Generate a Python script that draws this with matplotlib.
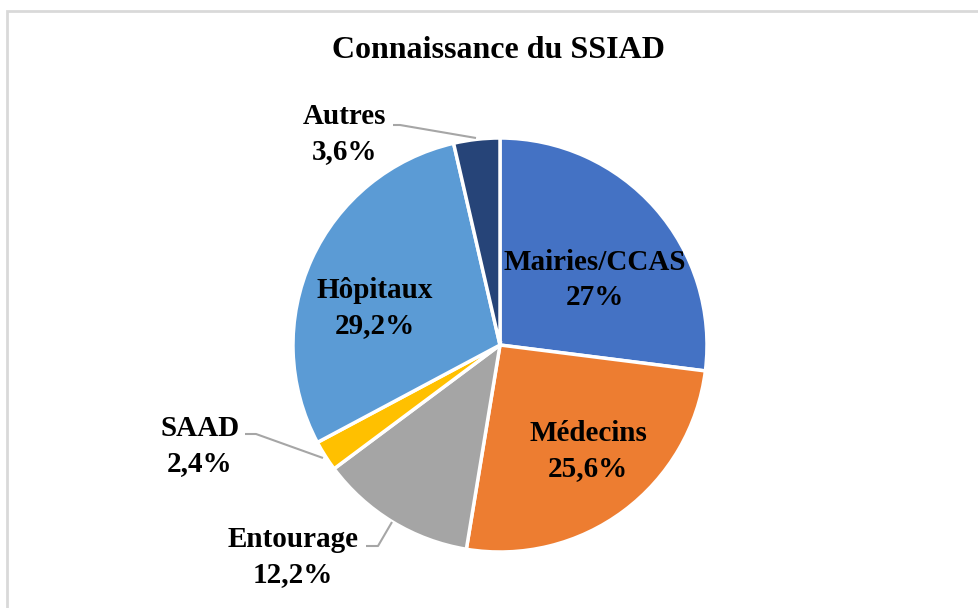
import matplotlib.pyplot as plt
from matplotlib.patches import Rectangle

labels = ["Mairies/CCAS", "Médecins", "Entourage", "SAAD", "Hôpitaux", "Autres"]
values = [27.0, 25.6, 12.2, 2.4, 29.2, 3.6]
pct_text = ["27%", "25,6%", "12,2%", "2,4%", "29,2%", "3,6%"]
colors = ["#4472C4", "#ED7D31", "#A5A5A5", "#FFC000", "#5B9BD5", "#264478"]

W, H = 979, 608
fig = plt.figure(figsize=(W / 100, H / 100), dpi=100)
ax = fig.add_axes([0, 0, 1, 1])
ax.axis("off")

font = {"family": ["Liberation Serif", "DejaVu Serif"], "weight": "bold"}

# chart area border (only top and left visible in the reference)
ax.add_patch(Rectangle((7, -10), W + 20, H - 11 + 10, fill=False,
                       edgecolor="#D9D9D9", linewidth=2))

cx, cy, r = 500, H - 345, 207
wedges, _ = ax.pie(values, colors=colors, startangle=90, counterclock=False,
                   center=(cx, cy), radius=r,
                   wedgeprops={"edgecolor": "white", "linewidth": 2.5})
ax.set_aspect("equal")
ax.set_xlim(0, W)
ax.set_ylim(0, H)

ax.text(499, H - 50, "Connaissance du SSIAD", ha="center", va="center",
        fontsize=23, **font)

# labels inside the slices
inside = {0: (595, 280), 1: (588, 451), 4: (375, 308)}
for i, (x, y) in inside.items():
    ax.text(x, H - y, labels[i] + "\n" + pct_text[i], ha="center", va="center",
            fontsize=21, color="black", linespacing=1.4, **font)

# outside labels with leader lines
outside = {
    5: ((345, 134), [(393, 125), (400, 125), (476, 138)]),
    3: ((200, 446), [(245, 434), (256, 434), (323, 458)]),
    2: ((293, 557), [(366, 546), (378, 546), (392, 522)]),
}
for i, ((x, y), pts) in outside.items():
    ax.text(x, H - y, labels[i] + "\n" + pct_text[i], ha="center", va="center",
            fontsize=21, color="black", linespacing=1.4, **font)
    ax.plot([p[0] for p in pts], [H - p[1] for p in pts], color="#A6A6A6",
            linewidth=1.5, solid_capstyle="butt")

fig.savefig("out.png", dpi=100, facecolor="white")
